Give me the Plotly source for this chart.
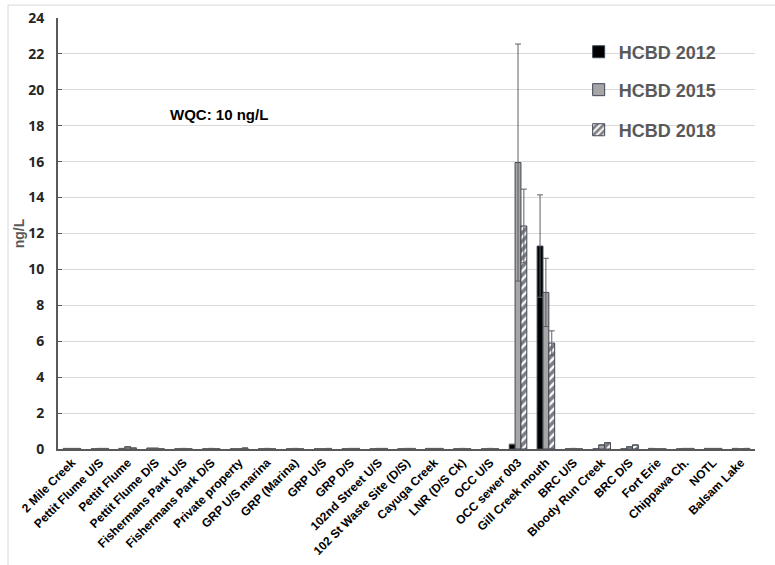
import plotly.graph_objects as go

# Sampling sites along the river (x categories)
sites = [
    "2 Mile Creek", "Pettit Flume U/S", "Pettit Flume", "Pettit Flume D/S",
    "Fishermans Park U/S", "Fishermans Park D/S", "Private property",
    "GRP U/S marina", "GRP (Marina)", "GRP U/S", "GRP D/S", "102nd Street U/S",
    "102 St Waste Site (D/S)", "Cayuga Creek", "LNR (D/S Ck)", "OCC U/S",
    "OCC sewer 003", "Gill Creek mouth", "BRC U/S", "Bloody Run Creek",
    "BRC D/S", "Fort Erie", "Chippawa Ch.", "NOTL", "Balsam Lake",
]

# HCBD concentrations (ng/L) by survey year
hcbd_2012 = [0.03, 0, 0.03, 0.04, 0, 0, 0, 0, 0, 0, 0, 0, 0, 0.03, 0, 0,
             0.26, 11.3, 0, 0, 0, 0.03, 0, 0.03, 0.03]
hcbd_2015 = [0.03, 0.03, 0.12, 0.04, 0.03, 0.03, 0, 0.03, 0.03, 0, 0.03, 0.03,
             0.03, 0.03, 0.03, 0.03, 15.95, 8.72, 0.03, 0.22, 0.12, 0, 0.03,
             0.03, 0]
hcbd_2018 = [0.03, 0.03, 0.05, 0, 0, 0, 0.05, 0, 0, 0.03, 0.03, 0.03, 0.03,
             0.03, 0, 0, 12.42, 5.9, 0, 0.35, 0.22, 0, 0.03, 0.03, 0.03]

# Standard deviations
err_2012 = [0] * 17 + [2.85] + [0] * 7
err_2015 = [0] * 16 + [6.6, 1.9] + [0] * 7
err_2018 = [0] * 16 + [2.05, 0.68] + [0] * 7

y_ticks = list(range(0, 25, 2))

outline = "#3e4656"
err_style = dict(type="data", thickness=1, width=3, color="#5f5f5f")

fig = go.Figure()
fig.add_trace(go.Bar(
    x=sites, y=hcbd_2012, name="HCBD 2012", legend="legend",
    marker=dict(color="#000000", line=dict(color=outline, width=1)),
    error_y=dict(array=err_2012, **err_style),
))
fig.add_trace(go.Bar(
    x=sites, y=hcbd_2015, name="HCBD 2015", legend="legend2",
    marker=dict(color="#a6a6a6", line=dict(color=outline, width=1)),
    error_y=dict(array=err_2015, **err_style),
))
fig.add_trace(go.Bar(
    x=sites, y=hcbd_2018, name="HCBD 2018", legend="legend3",
    marker=dict(color="#ffffff", line=dict(color=outline, width=1),
                pattern=dict(shape="/", fgcolor="#000000", bgcolor="#ffffff",
                             size=6, solidity=0.6)),
    error_y=dict(array=err_2018, **err_style),
))

legend_font = dict(family="Liberation Sans", size=18, color="#595959", weight="bold")
legend_common = dict(x=0.747, xanchor="left", yanchor="middle", font=legend_font,
                     bgcolor="rgba(0,0,0,0)", borderwidth=0, itemwidth=30)

fig.update_layout(
    width=775, height=565,
    margin=dict(l=58, r=20, t=18, b=116),
    paper_bgcolor="white", plot_bgcolor="white",
    barmode="group", bargap=0.37, bargroupgap=0,
    showlegend=True,
    legend=dict(y=0.921, **legend_common),
    legend2=dict(y=0.833, **legend_common),
    legend3=dict(y=0.740, **legend_common),
    xaxis=dict(
        tickangle=-45, showgrid=False, ticks="", automargin=False,
        showline=True, linecolor="#595959", linewidth=2,
        tickfont=dict(family="Liberation Sans", size=12, color="#000000", weight="bold"),
    ),
    yaxis=dict(
        range=[0, 24], tickvals=y_ticks, ticktext=[str(v) for v in y_ticks],
        automargin=False,
        showgrid=True, gridcolor="#d9d9d9", gridwidth=1, zeroline=False,
        showline=True, linecolor="#595959", linewidth=2,
        ticks="inside", ticklen=4, tickcolor="#595959", ticklabelstandoff=9,
        tickfont=dict(family="Noto Sans", size=14, color="#262626", weight="bold"),
        title=dict(text="ng/L", standoff=0,
                   font=dict(family="Liberation Sans", size=14, color="#595959", weight="bold")),
    ),
    annotations=[dict(
        text="WQC: 10 ng/L", xref="paper", yref="paper", x=0.158, y=0.775,
        xanchor="left", yanchor="middle", showarrow=False,
        font=dict(family="Liberation Sans", size=15, color="#000000", weight="bold"),
    )],
    shapes=[dict(
        type="rect", xref="paper", yref="paper",
        x0=-0.0717, y0=-0.3, x1=1.06, y1=1.030,
        line=dict(color="#d9d9d9", width=1), fillcolor="rgba(0,0,0,0)", layer="below",
    )],
)

fig.write_html("out.html")
